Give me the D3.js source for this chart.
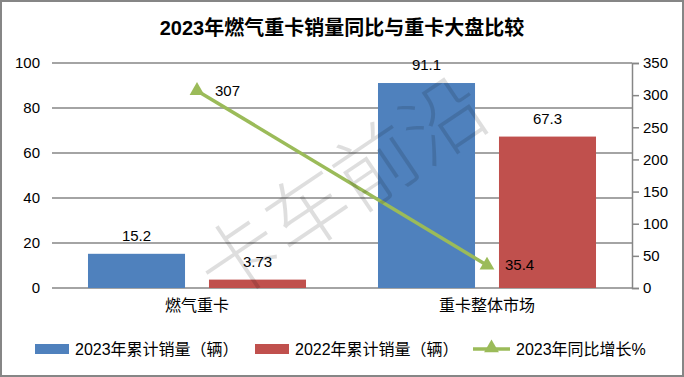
<!DOCTYPE html>
<html>
<head>
<meta charset="utf-8">
<script src="https://cdn.jsdelivr.net/npm/d3@7"></script>
<style>
    body { margin: 0; background: #fff; }
    svg { display: block; font-family: "Liberation Sans", "Noto Sans CJK SC", sans-serif; }
</style>
</head>
<body>
<svg id="chart" width="684" height="377"></svg>
<script>
var categories = ["燃气重卡", "重卡整体市场"];
var sales2023 = [15.2, 91.1];
var sales2022 = [3.73, 67.3];
var growth = [307, 35.4];
var seriesNames = ["2023年累计销量（辆）", "2022年累计销量（辆）", "2023年同比增长%"];
var leftTicks = [0, 20, 40, 60, 80, 100];
var rightTicks = [0, 50, 100, 150, 200, 250, 300, 350];

var dimensions = {
    margins: { top: 63, right: 52, bottom: 89, left: 52 },
    container: { height: 377, width: 684 }
};
var graph = {
    height: dimensions.container.height - dimensions.margins.top - dimensions.margins.bottom,
    width: dimensions.container.width - dimensions.margins.left - dimensions.margins.right
};
var colors = ["#4F81BD", "#C0504D", "#9BBB59"];
var gridColor = "#868686";

var svg = d3.select("#chart");

// outer frame
svg.append("rect")
    .attr("x", 1).attr("y", 1)
    .attr("width", 682).attr("height", 375)
    .attr("fill", "#fff")
    .attr("stroke", gridColor)
    .attr("stroke-width", 2);

svg.append("text")
    .attr("x", 342).attr("y", 35)
    .attr("text-anchor", "middle")
    .attr("font-size", 20)
    .attr("font-weight", "bold")
    .text("2023年燃气重卡销量同比与重卡大盘比较");

var container = svg.append("g")
    .attr("transform", `translate(${dimensions.margins.left}, ${dimensions.margins.top})`);

var yLeft = d3.scaleLinear().domain([0, 100]).range([graph.height, 0]);
var yRight = d3.scaleLinear().domain([0, 350]).range([graph.height, 0]);
var x0 = d3.scaleBand().domain(categories).range([0, graph.width]);
var x1 = d3.scaleBand().domain([0, 1]).range([0, x0.bandwidth()])
    .paddingInner(0.198).paddingOuter(0.2975);

// gridlines
container.append("g")
    .selectAll("line")
    .data(leftTicks)
    .enter()
    .append("line")
    .attr("x1", 0).attr("x2", graph.width)
    .attr("y1", d => yLeft(d)).attr("y2", d => yLeft(d))
    .attr("stroke", gridColor)
    .attr("stroke-width", 1.5);

// left labels
container.append("g")
    .selectAll("text")
    .data(leftTicks)
    .enter()
    .append("text")
    .attr("x", -12)
    .attr("y", d => yLeft(d) + 5)
    .attr("text-anchor", "end")
    .attr("font-size", 15)
    .text(d => d);

// right axis
var rightAxis = container.append("g")
    .attr("transform", `translate(${graph.width}, 0)`)
    .call(d3.axisRight(yRight).tickValues(rightTicks).tickSize(7).tickPadding(4));
rightAxis.select(".domain").attr("stroke", gridColor).attr("stroke-width", 1.5);
rightAxis.selectAll(".tick line").attr("stroke", gridColor).attr("stroke-width", 1.5);
rightAxis.selectAll(".tick text")
    .attr("font-size", 15)
    .attr("font-family", "Liberation Sans, sans-serif")
    .attr("fill", "#000");

// bars
var barData = [];
categories.forEach((c, i) => {
    barData.push({ cat: c, s: 0, v: sales2023[i] });
    barData.push({ cat: c, s: 1, v: sales2022[i] });
});

container.selectAll("rect.bar")
    .data(barData)
    .enter()
    .append("rect")
    .attr("class", "bar")
    .attr("x", d => x0(d.cat) + x1(d.s))
    .attr("width", x1.bandwidth())
    .attr("y", d => yLeft(d.v))
    .attr("height", d => graph.height - yLeft(d.v))
    .attr("fill", d => colors[d.s]);

container.selectAll("text.barlabel")
    .data(barData)
    .enter()
    .append("text")
    .attr("class", "barlabel")
    .attr("x", d => x0(d.cat) + x1(d.s) + x1.bandwidth() / 2)
    .attr("y", d => yLeft(d.v) - 13)
    .attr("text-anchor", "middle")
    .attr("font-size", 15)
    .text(d => d.v);

// category labels
container.selectAll("text.cat")
    .data(categories)
    .enter()
    .append("text")
    .attr("class", "cat")
    .attr("x", d => x0(d) + x0.bandwidth() / 2)
    .attr("y", graph.height + 23)
    .attr("text-anchor", "middle")
    .attr("font-size", 16)
    .text(d => d);

// growth line
var lineData = categories.map((c, i) => ({ x: x0(c) + x0.bandwidth() / 2, v: growth[i] }));
container.append("path")
    .datum(lineData)
    .attr("fill", "none")
    .attr("stroke", colors[2])
    .attr("stroke-width", 3.5)
    .attr("d", d3.line().x(d => d.x).y(d => yRight(d.v)));

var tri = d3.symbol().type(d3.symbolTriangle).size(95);
container.selectAll("path.marker")
    .data(lineData)
    .enter()
    .append("path")
    .attr("class", "marker")
    .attr("transform", d => `translate(${d.x}, ${yRight(d.v)})`)
    .attr("d", tri)
    .attr("fill", colors[2]);

container.selectAll("text.linelabel")
    .data(lineData)
    .enter()
    .append("text")
    .attr("class", "linelabel")
    .attr("x", d => d.x + 18)
    .attr("y", d => yRight(d.v) + 5)
    .attr("font-size", 15)
    .text(d => d.v);

// watermark
svg.append("text")
    .attr("transform", "translate(346, 195) rotate(-34)")
    .attr("text-anchor", "middle")
    .attr("dominant-baseline", "middle")
    .attr("font-family", "Noto Sans CJK SC")
    .attr("font-weight", 300)
    .attr("font-size", 82)
    .attr("fill", "rgba(0,0,0,0.13)")
    .text("卡车前沿");

// legend
var legend = svg.append("g").attr("transform", "translate(0, 349)");
var legendItems = [
    { x: 35, w: 34, type: "rect" },
    { x: 255, w: 34, type: "rect" },
    { x: 473, w: 37, type: "line" }
];
legendItems.forEach((item, i) => {
    if (item.type === "rect") {
        legend.append("rect")
            .attr("x", item.x).attr("y", -5)
            .attr("width", item.w).attr("height", 10)
            .attr("fill", colors[i]);
    } else {
        legend.append("line")
            .attr("x1", item.x).attr("x2", item.x + item.w)
            .attr("y1", 0).attr("y2", 0)
            .attr("stroke", colors[i])
            .attr("stroke-width", 3.5);
        legend.append("path")
            .attr("transform", `translate(${item.x + item.w / 2}, -1)`)
            .attr("d", tri)
            .attr("fill", colors[i]);
    }
    legend.append("text")
        .attr("x", item.x + item.w + 6)
        .attr("y", 6)
        .attr("font-size", 16)
        .text(seriesNames[i]);
});
</script>
</body>
</html>
